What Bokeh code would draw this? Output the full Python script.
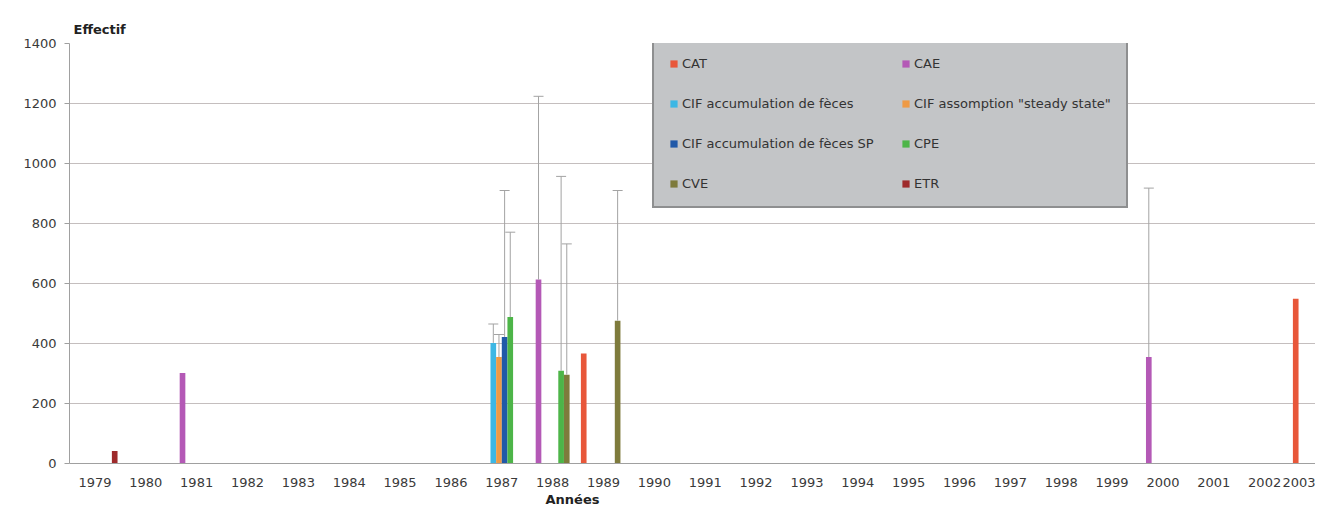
from bokeh.plotting import figure
from bokeh.models import (Range1d, ColumnDataSource, Whisker, TeeHead, Legend,
                          LegendItem, Title, SingleIntervalTicker)
from bokeh.embed import file_html
from bokeh.resources import INLINE

# ---------------- data ----------------
axis_years = list(range(1979, 2004))

series_names = ["CAT", "CAE", "CIF accumulation de fèces",
                'CIF assomption "steady state"', "CIF accumulation de fèces SP",
                "CPE", "CVE", "ETR"]
series_colors = ["#E8573A", "#B459B6", "#3DB7E4", "#EE9A45",
                 "#2159A8", "#4DB548", "#7E7B3C", "#9E2A2B"]

cat_years = [1989, 2003]
cat_values = [367, 549]
cat_err_top = [None, None]

cae_years = [1981, 1988, 2000]
cae_values = [302, 613, 355]
cae_err_top = [None, 1224, 918]

cif_acc_years = [1987]
cif_acc_values = [402]
cif_acc_err_top = [465]

cif_ss_years = [1987]
cif_ss_values = [355]
cif_ss_err_top = [430]

cif_sp_years = [1987]
cif_sp_values = [422]
cif_sp_err_top = [910]

cpe_years = [1987, 1988]
cpe_values = [488, 309]
cpe_err_top = [771, 957]

cve_years = [1988, 1989]
cve_values = [296, 476]
cve_err_top = [732, 910]

etr_years = [1979]
etr_values = [42]
etr_err_top = [None]

series_data = [
    (cat_years, cat_values, cat_err_top),
    (cae_years, cae_values, cae_err_top),
    (cif_acc_years, cif_acc_values, cif_acc_err_top),
    (cif_ss_years, cif_ss_values, cif_ss_err_top),
    (cif_sp_years, cif_sp_values, cif_sp_err_top),
    (cpe_years, cpe_values, cpe_err_top),
    (cve_years, cve_values, cve_err_top),
    (etr_years, etr_values, etr_err_top),
]

# ---------------- figure ----------------
FONT = "DejaVu Sans"
n_series = len(series_names)
slot = 1.0 / (n_series + 1)  # clustered bars with 100% gap width

p = figure(width=1315, height=506, output_backend="svg", toolbar_location=None,
           x_range=Range1d(axis_years[0] - 0.5, axis_years[-1]),
           y_range=Range1d(0, 1400),
           min_border_left=69, min_border_right=0, min_border_top=43,
           min_border_bottom=43, background_fill_color="white",
           border_fill_color="white", outline_line_color=None)

p.title.text = "Effectif"
p.title.align = "left"
p.title.offset = 4
p.title.standoff = 13
p.title.text_font = FONT
p.title.text_font_size = "13px"
p.title.text_font_style = "bold"
p.title.text_color = "#222222"

p.xgrid.grid_line_color = None
p.ygrid.grid_line_color = "#c4bebe"
p.ygrid.grid_line_width = 1
p.yaxis.ticker = SingleIntervalTicker(interval=200)
p.xaxis.ticker = SingleIntervalTicker(interval=1)

for ax in (p.xaxis[0], p.yaxis[0]):
    ax.axis_line_color = "#a0a0a0"
    ax.major_label_text_font = FONT
    ax.major_label_text_font_size = "13px"
    ax.major_label_text_color = "#3a3a3a"
    ax.minor_tick_line_color = None
p.yaxis.major_tick_line_color = "#a0a0a0"
p.yaxis.major_tick_out = 5
p.yaxis.major_tick_in = 0
p.yaxis.major_label_standoff = 8
p.xaxis.major_tick_line_color = None
p.xaxis.major_label_standoff = 8

legend_items = []
for i, (yrs, vals, errs) in enumerate(series_data):
    xs = [y - 0.5 + (i + 1) * slot for y in yrs]
    src = ColumnDataSource(dict(x=xs, top=vals))
    r = p.vbar(x="x", top="top", width=slot, bottom=0, source=src,
               fill_color=series_colors[i], line_color=None)
    legend_items.append(LegendItem(label=series_names[i], renderers=[r]))
    ex = [x for x, e in zip(xs, errs) if e is not None]
    ev = [v for v, e in zip(vals, errs) if e is not None]
    eu = [e for e in errs if e is not None]
    if ex:
        esrc = ColumnDataSource(dict(base=ex, lower=ev, upper=eu))
        p.add_layout(Whisker(source=esrc, base="base", lower="lower", upper="upper",
                             line_color="#a3a3a3", line_width=1, level="glyph",
                             upper_head=TeeHead(size=10, line_color="#a3a3a3", line_width=1),
                             lower_head=None))

legend = Legend(items=legend_items, orientation="horizontal", ncols=2,
                location=(583, 255),
                title=" ", title_text_font_size="1px", title_standoff=7,
                background_fill_color="#c3c5c7", background_fill_alpha=1,
                border_line_color="#5a5a5a", border_line_width=2,
                label_text_font=FONT, label_text_font_size="13px",
                label_text_color="#333333",
                glyph_width=9, glyph_height=9, label_standoff=4,
                label_width=194, label_height=12, spacing=25,
                padding=15, margin=0)
p.add_layout(legend, "center")

p.add_layout(Title(text="Années", align="left", offset=476, standoff=0,
                   text_font=FONT, text_font_size="13px", text_font_style="bold",
                   text_color="#222222"), "below")

open("out.html", "w").write(file_html(p, INLINE))
